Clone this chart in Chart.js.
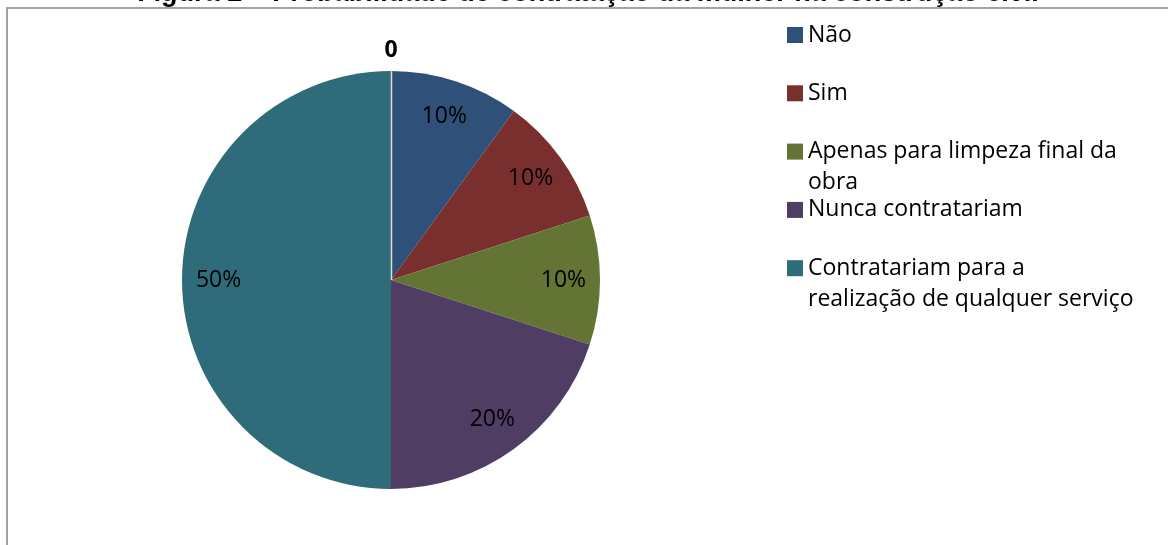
<!DOCTYPE html>
<html>
<head>
<meta charset="utf-8">
<script src="https://cdn.jsdelivr.net/npm/chart.js@4/dist/chart.umd.min.js"></script>
<style>
  html, body { margin: 0; padding: 0; background: #fff; }
  #wrap { width: 1168px; height: 545px; position: relative; }
</style>
</head>
<body>
<div id="wrap"><canvas id="grafico" width="1168" height="545"></canvas></div>
<script>
// dados do gráfico
const titulo = 'Figura 2 – Probabilidade de contratação da mulher na construção civil';
const categorias = ['', 'Não', 'Sim', ['Apenas para limpeza final da', 'obra'], 'Nunca contratariam', ['Contratariam para a', 'realização de qualquer serviço']];
const valores = [0, 10, 10, 10, 20, 50];
const cores = ['#2E6C7C', '#2F5078', '#7A2F2F', '#637434', '#4F3D64', '#2E6C7C'];

const fonteTexto = '"Open Sans", "Noto Sans", sans-serif';

// moldura e título (cortado no topo)
const molduraPlugin = {
    id: 'moldura',
    beforeDraw(chart) {
        const ctx = chart.ctx;
        ctx.save();
        ctx.strokeStyle = '#a3a3a3';
        ctx.lineWidth = 2;
        ctx.beginPath();
        ctx.moveTo(7, 545);
        ctx.lineTo(7, 8);
        ctx.lineTo(1168, 8);
        ctx.stroke();
        ctx.fillStyle = '#000';
        ctx.font = 'bold 27px "Liberation Sans", Arial, sans-serif';
        ctx.textAlign = 'center';
        ctx.textBaseline = 'alphabetic';
        ctx.fillText(titulo, 588, 0.5);
        ctx.restore();
    }
};

// rótulos de percentagem nas fatias
const rotulosPlugin = {
    id: 'rotulos',
    afterDatasetsDraw(chart) {
        const ctx = chart.ctx;
        const meta = chart.getDatasetMeta(0);
        ctx.save();
        ctx.textAlign = 'center';
        ctx.textBaseline = 'middle';
        meta.data.forEach((arc, i) => {
            const v = valores[i];
            const p = arc.getProps(['x', 'y', 'startAngle', 'endAngle', 'outerRadius'], true);
            const meio = (p.startAngle + p.endAngle) / 2;
            if (v === 0) {
                // fatia nula: só a linha divisória e o "0"
                ctx.strokeStyle = '#e2d9cf';
                ctx.lineWidth = 1.5;
                ctx.beginPath();
                ctx.moveTo(p.x + 0.5, p.y);
                ctx.lineTo(p.x + 0.5 + Math.cos(meio) * p.outerRadius, p.y + Math.sin(meio) * p.outerRadius);
                ctx.stroke();
                const r = p.outerRadius + 21;
                ctx.fillStyle = '#000';
                ctx.font = 'bold 23px ' + fonteTexto;
                ctx.fillText('0', p.x + Math.cos(meio) * r, p.y + Math.sin(meio) * r);
                return;
            }
            const r = p.outerRadius * 0.825;
            ctx.fillStyle = '#000';
            ctx.font = '23px ' + fonteTexto;
            ctx.fillText(v + '%', p.x + Math.cos(meio) * r, p.y + Math.sin(meio) * r);
        });
        ctx.restore();
    }
};

// legenda à direita, com espaçamento fixo entre itens
const legendaPlugin = {
    id: 'legenda',
    afterDraw(chart) {
        const ctx = chart.ctx;
        ctx.save();
        ctx.font = '23px ' + fonteTexto;
        ctx.textAlign = 'left';
        ctx.textBaseline = 'middle';
        let n = 0;
        categorias.forEach((cat, i) => {
            if (cat === '') return;
            const y = 35 + n * 58.3;
            ctx.fillStyle = cores[i];
            ctx.fillRect(787, y - 8, 16, 16);
            ctx.fillStyle = '#000';
            const linhas = Array.isArray(cat) ? cat : [cat];
            linhas.forEach((t, k) => ctx.fillText(t, 808, y + k * 31));
            n++;
        });
        ctx.restore();
    }
};

const ctx = document.getElementById('grafico');
new Chart(ctx, {
    type: 'pie',
    data: {
        labels: categorias,
        datasets: [{
            data: valores,
            backgroundColor: cores,
            borderWidth: 0
        }]
    },
    options: {
        responsive: false,
        animation: false,
        layout: {
            padding: { top: 71, bottom: 56, left: 182, right: 568 }
        },
        plugins: {
            legend: { display: false },
            tooltip: { enabled: false }
        }
    },
    plugins: [molduraPlugin, rotulosPlugin, legendaPlugin]
});
</script>
</body>
</html>
